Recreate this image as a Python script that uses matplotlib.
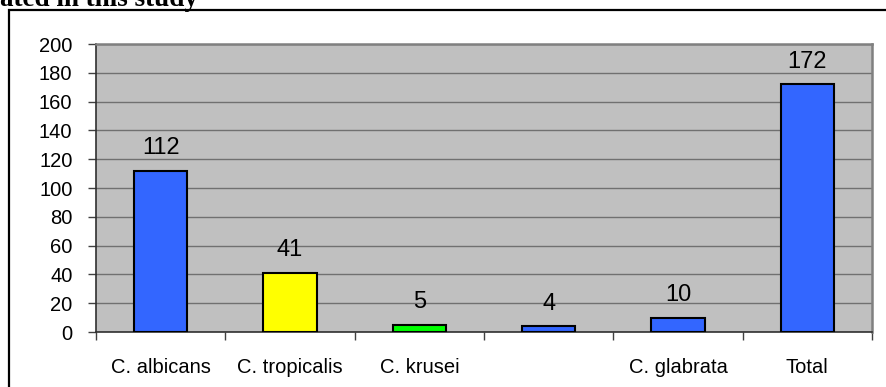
import matplotlib
matplotlib.use("Agg")
import matplotlib.pyplot as plt
from matplotlib.patches import Rectangle
import numpy as np

categories = ["C. albicans", "C. tropicalis", "C. krusei", "", "C. glabrata", "Total"]
counts = [112, 41, 5, 4, 10, 172]
bar_colors = ["#3366FF", "#FFFF00", "#00FF00", "#3366FF", "#3366FF", "#3366FF"]
y_ticks = list(range(0, 201, 20))
heading = "ated in this study"

plt.rcParams["font.family"] = ["Liberation Sans", "DejaVu Sans"]

W, H = 886, 387
fig = plt.figure(figsize=(W / 100, H / 100), dpi=100)
fig.patch.set_facecolor("white")

# outer frame of the chart object (runs off the right and bottom edges)
fig.add_artist(Rectangle((9 / W, -0.1), 1.2, 1 - 10 / H + 0.1,
                         transform=fig.transFigure, fill=False,
                         edgecolor="black", linewidth=1.6))

# heading fragment above the frame
fig.text(0.0, 1 - 5.5 / H, heading, ha="left", va="baseline",
         fontsize=19.5, fontweight="bold",
         family=["Liberation Serif", "DejaVu Serif"])

ax = fig.add_axes([96 / W, 1 - 332 / H, 776 / W, 288 / H])
ax.set_facecolor("#C0C0C0")

x = np.arange(len(categories))
ax.bar(x, counts, width=0.41, color=bar_colors, edgecolor="black",
       linewidth=1.5, zorder=3)

for xi, v in zip(x, counts):
    ax.annotate(str(v), (xi, v), xytext=(0, 12), textcoords="offset points",
                ha="center", va="baseline", fontsize=17, color="black")

ax.set_xlim(-0.5, len(categories) - 0.5)
ax.set_ylim(0, 200)
ax.set_yticks(y_ticks)
ax.yaxis.grid(True, color="#707070", linewidth=1.0, zorder=1)
ax.set_axisbelow(True)

# category boundaries carry the tick marks, centres carry the labels
ax.set_xticks(np.arange(len(categories) + 1) - 0.5)
ax.set_xticklabels([])
ax.set_xticks(x, minor=True)
ax.set_xticklabels(categories, minor=True, fontsize=14.5)
ax.tick_params(axis="x", which="major", length=6, width=1, color="#404040",
               direction="out")
ax.tick_params(axis="x", which="minor", length=0, pad=19)
ax.tick_params(axis="y", length=6, width=1, color="#404040", direction="out",
               labelsize=14.5, pad=11)

for side in ("left", "bottom"):
    ax.spines[side].set_color("#303030")
    ax.spines[side].set_linewidth(1.2)
for side in ("top", "right"):
    ax.spines[side].set_color("#808080")
    ax.spines[side].set_linewidth(1.8)

fig.savefig("out.png", dpi=100)
